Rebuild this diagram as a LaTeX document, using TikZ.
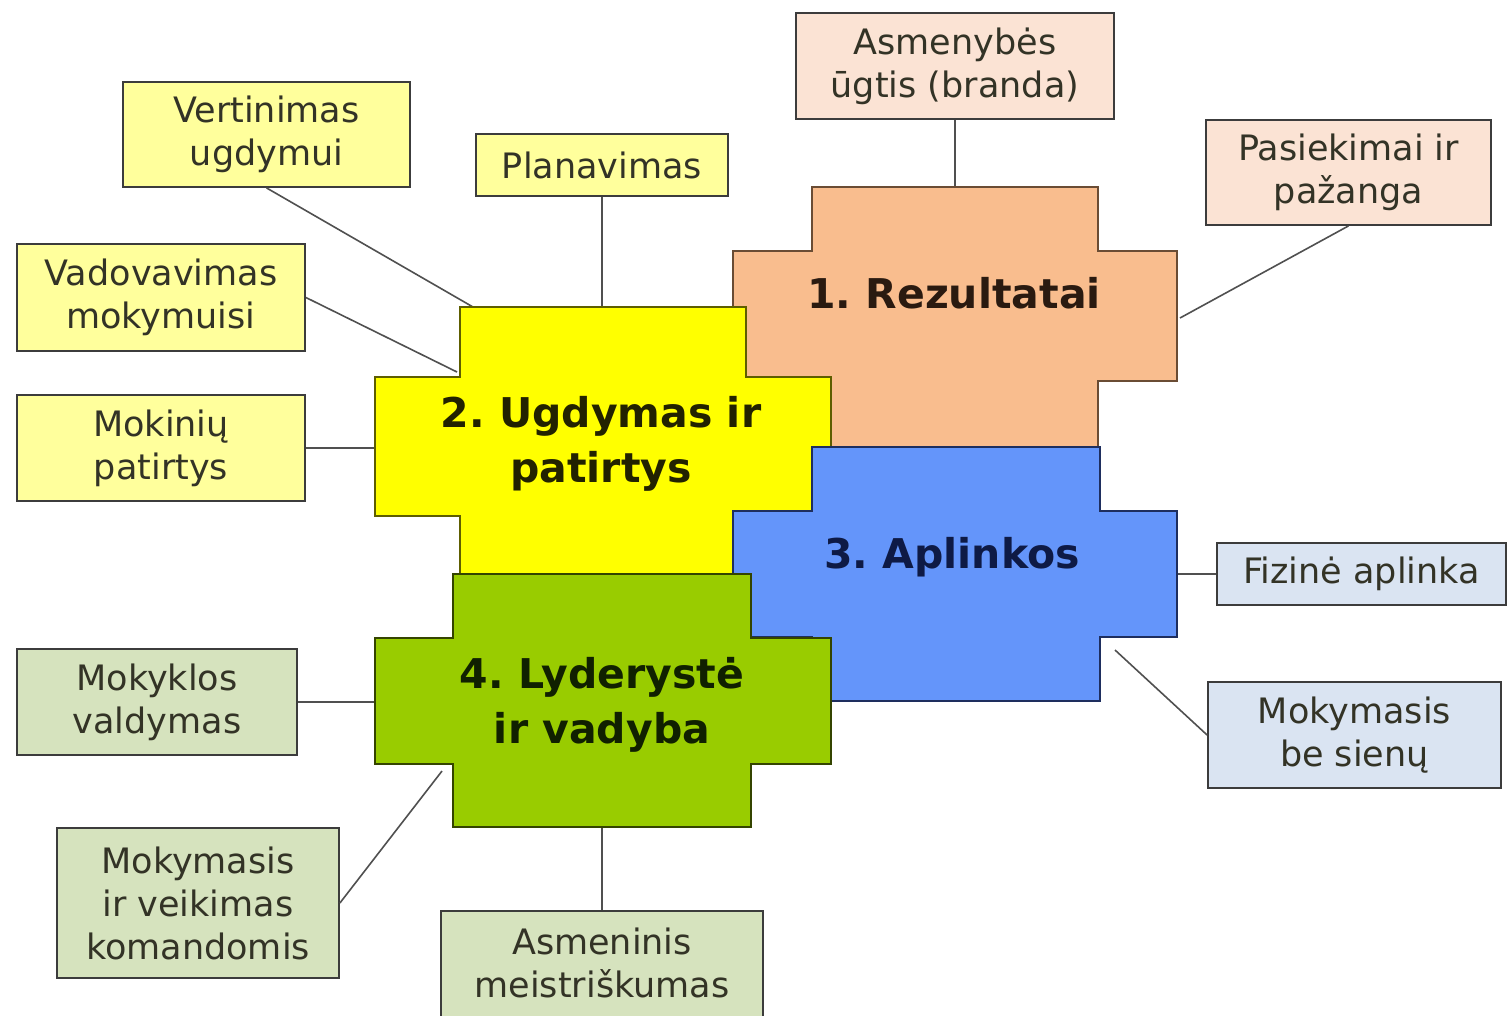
\documentclass[tikz,border=0pt]{standalone}
\usepackage{fontspec}
\setmainfont{DejaVu Sans}
\frenchspacing
\definecolor{linegray}{HTML}{505050}
\definecolor{boxborder}{HTML}{3C3C3C}
\definecolor{labeltext}{HTML}{333326}
\definecolor{fillY}{HTML}{FFFF9C}
\definecolor{fillP}{HTML}{FBE3D4}
\definecolor{fillB}{HTML}{DAE4F2}
\definecolor{fillG}{HTML}{D6E3BE}
\definecolor{bigO}{HTML}{F9BD8E}
\definecolor{bigOb}{HTML}{6A4C34}
\definecolor{bigY}{HTML}{FFFF00}
\definecolor{bigYb}{HTML}{5E5E00}
\definecolor{bigB}{HTML}{6495FA}
\definecolor{bigBb}{HTML}{1E2E5E}
\definecolor{bigG}{HTML}{99CC00}
\definecolor{bigGb}{HTML}{344400}
\definecolor{txtO}{HTML}{2A1A10}
\definecolor{txtY}{HTML}{222200}
\definecolor{txtB}{HTML}{0E1A45}
\definecolor{txtG}{HTML}{102000}
\tikzset{
  smallbox/.style={draw=boxborder, line width=1.8pt, inner sep=0pt, align=center,
    text=labeltext, font=\fontsize{35}{43}\selectfont},
  biglabel/.style={inner sep=0pt, align=center, font=\fontsize{41}{55}\selectfont\bfseries},
  crossshape/.style={line width=2pt},
  conn/.style={draw=linegray, line width=1.6pt}
}
\begin{document}
\begin{tikzpicture}[x=1pt,y=-1pt]
\useasboundingbox[fill=white] (0,0) rectangle (1509,1015);

% connector end points on the cross shapes
\coordinate (c2a) at (473,307);
\coordinate (c2b) at (457,372);
\coordinate (c2c) at (375,448);
\coordinate (c2d) at (602,307);
\coordinate (c1a) at (955,187);
\coordinate (c1b) at (1180,318);
\coordinate (c3a) at (1177,574);
\coordinate (c3b) at (1115,650);
\coordinate (c4a) at (375,702);
\coordinate (c4b) at (442,771);
\coordinate (c4c) at (602,827);

% small boxes
\node[smallbox, fill=fillY, minimum width=287pt, minimum height=105pt] (vert) at (266.5,134.5) {Vertinimas\\ugdymui};
\node[smallbox, fill=fillY, minimum width=288pt, minimum height=107pt] (vad) at (161,297.5) {Vadovavimas\\mokymuisi};
\node[smallbox, fill=fillY, minimum width=288pt, minimum height=106pt] (mok) at (161,448) {Mokinių\\patirtys};
\node[smallbox, fill=fillY, minimum width=252pt, minimum height=62pt] (plan) at (602,165) {Planavimas};
\node[smallbox, fill=fillP, minimum width=318pt, minimum height=106pt] (asm) at (955,66) {Asmenybės\\ūgtis (branda)};
\node[smallbox, fill=fillP, minimum width=285pt, minimum height=105pt] (pas) at (1348.5,172.5) {Pasiekimai ir\\pažanga};
\node[smallbox, fill=fillB, minimum width=289pt, minimum height=62pt] (fiz) at (1361.5,574) {Fizinė aplinka};
\node[smallbox, fill=fillB, minimum width=293pt, minimum height=106pt] (mbs) at (1354.5,735) {Mokymasis\\be sienų};
\node[smallbox, fill=fillG, minimum width=280pt, minimum height=106pt] (mv) at (157,702) {Mokyklos\\valdymas};
\node[smallbox, fill=fillG, minimum width=282pt, minimum height=150pt] (mik) at (198,903) {Mokymasis\\ir veikimas\\komandomis};
\node[smallbox, fill=fillG, minimum width=322pt, minimum height=150pt] (am) at (602,986) {};
\node[inner sep=0pt, align=center, text=labeltext, font=\fontsize{35}{43}\selectfont] (amt) at (602,963) {Asmeninis\\meistriškumas};

% connectors
\draw[conn] (vert.south) -- (c2a);
\draw[conn] (vad.east) -- (c2b);
\draw[conn] (mok.east) -- (c2c);
\draw[conn] (plan.south) -- (c2d);
\draw[conn] (asm.south) -- (c1a);
\draw[conn] (pas.south) -- (c1b);
\draw[conn] (fiz.west) -- (c3a);
\draw[conn] (mbs.west) -- (c3b);
\draw[conn] (mv.east) -- (c4a);
\draw[conn] (mik.east) -- (c4b);
\draw[conn] (am.north) -- (c4c);

% cross shapes
\filldraw[crossshape, fill=bigO, draw=bigOb]
  (812,187) -- (1098,187) -- (1098,251) -- (1177,251) -- (1177,381) -- (1098,381)
  -- (1098,447) -- (812,447) -- (812,381) -- (733,381) -- (733,251) -- (812,251) -- cycle;
\filldraw[crossshape, fill=bigY, draw=bigYb]
  (460,307) -- (746,307) -- (746,377) -- (831,377) -- (831,516) -- (746,516)
  -- (746,586) -- (460,586) -- (460,516) -- (375,516) -- (375,377) -- (460,377) -- cycle;
\filldraw[crossshape, fill=bigB, draw=bigBb]
  (812,447) -- (1100,447) -- (1100,511) -- (1177,511) -- (1177,637) -- (1100,637)
  -- (1100,701) -- (812,701) -- (812,637) -- (733,637) -- (733,511) -- (812,511) -- cycle;
\filldraw[crossshape, fill=bigG, draw=bigGb]
  (453,574) -- (751,574) -- (751,638) -- (831,638) -- (831,764) -- (751,764)
  -- (751,827) -- (453,827) -- (453,764) -- (375,764) -- (375,638) -- (453,638) -- cycle;

% labels of the cross shapes
\node[biglabel, text=txtO] (l1) at (954,293) {1. Rezultatai};
\node[biglabel, text=txtY] (l2) at (601,444) {2. Ugdymas ir\\patirtys};
\node[biglabel, text=txtB] (l3) at (952,557) {3. Aplinkos};
\node[biglabel, text=txtG] (l4) at (602,705) {4. Lyderystė\\ir vadyba};
\end{tikzpicture}
\end{document}
